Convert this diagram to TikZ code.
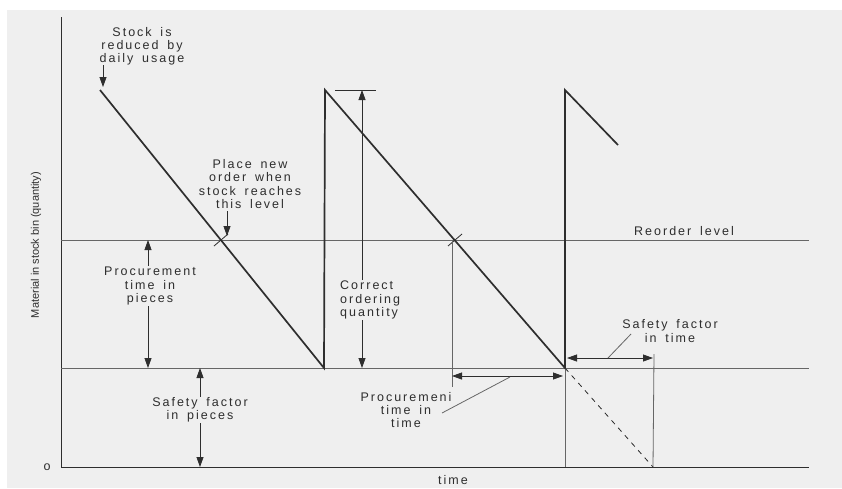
\documentclass[tikz,border=0pt]{standalone}
\usepackage{fontspec}
\setmainfont{Liberation Sans}
\newfontfamily\lsp[LetterSpace=16,WordSpace=1.6]{Liberation Sans}
\usetikzlibrary{arrows.meta,calc}
\definecolor{paper}{HTML}{EFEFEF}
\definecolor{ink}{HTML}{2E2E2E}
\definecolor{thin}{HTML}{666666}
\begin{document}
\begin{tikzpicture}[x=1pt,y=-1pt,
  lab/.style={text=ink,font=\lsp\fontsize{12.5}{13.2}\selectfont,align=center,inner sep=1pt},
  saw/.style={draw=ink,line width=1.7pt},
  guide/.style={draw=thin,line width=0.8pt},
  dim/.style={draw=ink,line width=0.8pt},
  tip/.style={-{Triangle[length=10pt,width=7pt]}},
  tips/.style={{Triangle[length=10pt,width=7pt]}-{Triangle[length=10pt,width=7pt]}}]
\useasboundingbox (0,0) rectangle (842,488);
\fill[white] (0,0) rectangle (842,488);
\fill[paper] (7,10) rectangle (842,488);
% key points
\coordinate (ytop) at (61,17);
\coordinate (org) at (61,467);
\coordinate (xend) at (809,467);
\coordinate (rL) at (61,240);
\coordinate (rR) at (809,240);
\coordinate (sL) at (61,368);
\coordinate (sR) at (809,368);
\coordinate (p1) at (100,90);
\coordinate (b1) at (324,368);
\coordinate (p2) at (325,90);
\coordinate (b2) at (565,368);
\coordinate (p3) at (565,90);
\coordinate (e3) at (618,145);
\coordinate (b2g) at (565,467);
\coordinate (dz) at (653,467);
\coordinate (i1) at (221,240);
\coordinate (i2) at (455,240);
% axes and levels
\draw[draw=ink,line width=1pt] (ytop) -- (org) -- (xend);
\draw[guide] (rL) -- (rR);
\draw[guide] (sL) -- (sR);
% sawtooth
\draw[saw] (p1) -- (b1) -- (p2) -- (b2) -- (p3) -- (e3);
\draw[guide] (b2) -- (b2g);
\draw[dim,dash pattern=on 5pt off 5pt] (b2) -- (dz);
% ticks at intersections
\draw[dim] ($(i1)+(-7,6)$) -- ($(i1)+(7,-6)$);
\draw[dim] ($(i2)+(-7,6)$) -- ($(i2)+(7,-6)$);
% correct ordering quantity
\coordinate (cqT) at (362,90);
\coordinate (cqB) at (362,368);
\draw[dim] (335,90) -- (376,90);
\draw[dim,tips] (cqT) -- (cqB);
\node[lab,align=left,anchor=west,fill=paper] (cq) at (339,300) {Correct\\ordering\\quantity};
% procurement time in pieces
\coordinate (ppT) at (148,240);
\coordinate (ppB) at (148,368);
\draw[dim,tips] (ppT) -- (ppB);
\node[lab,fill=paper] (pp) at (150,286) {Procurement\\time in\\pieces};
% safety factor in pieces
\coordinate (spT) at (200,368);
\coordinate (spB) at (200,467);
\draw[dim,tips] (spT) -- (spB);
\node[lab,fill=paper] (sp) at (200,410) {Safety factor\\in pieces};
% stock reduced
\node[lab] (st) at (142,46) {Stock is\\reduced by\\daily usage};
\coordinate (stA) at (103,65);
\coordinate (stB) at (103,87);
\draw[dim,tip] (stA) -- (stB);
% place new order
\node[lab] (po) at (250,184) {Place new\\order when\\stock reaches\\this level};
\coordinate (poA) at (227,211);
\coordinate (poB) at (227,236);
\draw[dim,tip] (poA) -- (poB);
% reorder level
\node[lab] (rl) at (684,231) {Reorder level};
% procurement time in time
\coordinate (ptL) at (452,376);
\coordinate (ptR) at (563,376);
\draw[guide] (452,240) -- (452,387);
\draw[dim,tips] (ptL) -- (ptR);
\node[lab] (pt) at (406,410) {Procuremeni\\time in\\time};
\draw[guide] (442,413) -- (510,377);
% safety factor in time
\coordinate (sfL) at (567,358);
\coordinate (sfR) at (653,358);
\draw[guide] (654,354) -- (dz);
\draw[dim,tips] (sfL) -- (sfR);
\node[lab] (sf) at (670,331) {Safety factor\\in time};
\draw[guide] (631,334) -- (608,358);
% axis labels
\node[text=ink,font=\fontsize{11}{12}\selectfont,rotate=90,xscale=1] (yl) at (36,245) {Material in stock bin (quantity)};
\node[lab] (o) at (47,467) {o};
\node[lab,inner sep=0pt] (tm) at (453,480) {time};
\end{tikzpicture}
\end{document}
